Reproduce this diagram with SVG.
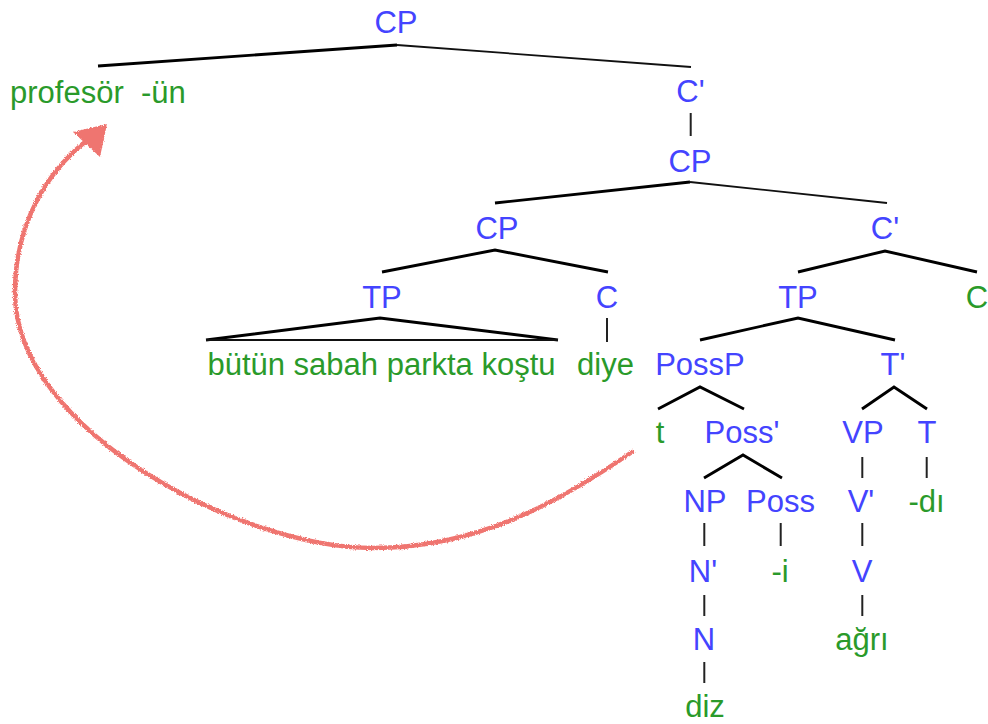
<svg xmlns="http://www.w3.org/2000/svg" width="988" height="724" viewBox="0 0 988 724">
  <defs>
    <style>
      text { font-family: "Liberation Sans", Arial, sans-serif; font-size: 31px; text-anchor: middle; }
      .nt { fill: #4444ff; }
      .t { fill: #2a9a2a; }
      .edge { fill: none; stroke: #000; stroke-width: 2.9; stroke-linejoin: miter; }
      .thin { fill: none; stroke: #111; stroke-width: 1.8; }
      .stem { fill: none; stroke: #222; stroke-width: 2; }
      .move { fill: none; stroke: #ef7470; stroke-width: 4.5; stroke-linecap: round; }
      .movehead { fill: #ef7470; }
    </style>
    <!-- grainy pencil texture for the movement arrow -->
    <filter id="rough" x="-5%" y="-5%" width="110%" height="110%">
      <feTurbulence type="fractalNoise" baseFrequency="1.3" numOctaves="2" seed="3" result="noise"/>
      <feDisplacementMap in="SourceGraphic" in2="noise" scale="3.5" xChannelSelector="R" yChannelSelector="G"/>
    </filter>
  </defs>

  <rect width="988" height="724" fill="#fff"/>

  <!-- tree branches -->
  <g id="connectors">
    <path class="edge" d="M98,66 L397,45"/>
    <path class="thin" d="M397,45 L691,67"/>
    <path class="stem" d="M690.7,113 L690.7,136"/>
    <path class="edge" d="M495,203 L690,182"/>
    <path class="thin" d="M690,182 L887,203"/>
    <path class="edge" d="M382,272 L495,250 L608,272"/>
    <path class="edge" d="M798,272 L885,251 L977,272"/>
    <path class="edge" d="M206,340 L380,318 L558,340"/>
    <path class="thin" d="M206,340 L558,340"/>
    <path class="stem" d="M607,318 L607,342"/>
    <path class="edge" d="M700,340 L798,318 L895,340"/>
    <path class="edge" d="M658,409 L700,387 L744,409"/>
    <path class="edge" d="M862,409 L894,387 L927,409"/>
    <path class="edge" d="M704,478 L743,455 L782,478"/>
    <path class="stem" d="M862.3,457 L862.3,478"/>
    <path class="stem" d="M926.7,457 L926.7,478"/>
    <path class="stem" d="M704.3,523 L704.3,546"/>
    <path class="stem" d="M780.7,523 L780.7,546"/>
    <path class="stem" d="M862.3,523 L862.3,546"/>
    <path class="stem" d="M704.3,595 L704.3,616"/>
    <path class="stem" d="M862.3,595 L862.3,616"/>
    <path class="stem" d="M704.3,662 L704.3,683"/>
  </g>

  <!-- movement arrow from the trace t up to the raised subject -->
  <g id="movement" filter="url(#rough)">
    <path class="move" d="M632,452 C552,507 473,548 373,548 C240,548 15,430 15,293 C15,220 50,170 85,142"/>
    <polygon class="movehead" points="73,132 107,124 100,157"/>
  </g>

  <!-- nodes -->
  <g id="cp-root"><text class="nt" x="396" y="33">CP</text></g>
  <g id="subject"><text class="t" x="10" y="103" style="text-anchor:start;white-space:pre" xml:space="preserve">profesör  -ün</text></g>
  <g id="cbar-1"><text class="nt" x="690.5" y="102">C'</text></g>
  <g id="cp-2"><text class="nt" x="690" y="172">CP</text></g>
  <g id="cp-3"><text class="nt" x="497" y="239">CP</text></g>
  <g id="cbar-2"><text class="nt" x="885" y="239">C'</text></g>
  <g id="tp-1"><text class="nt" x="382" y="308">TP</text></g>
  <g id="c-1"><text class="nt" x="607" y="308">C</text></g>
  <g id="tp-2"><text class="nt" x="798" y="308">TP</text></g>
  <g id="c-2"><text class="t" x="977" y="308">C</text></g>
  <g id="clause"><text class="t" x="381.5" y="375">bütün sabah parkta koştu</text></g>
  <g id="diye"><text class="t" x="605.5" y="375">diye</text></g>
  <g id="possp"><text class="nt" x="700" y="375">PossP</text></g>
  <g id="tbar"><text class="nt" x="893" y="375">T'</text></g>
  <g id="trace"><text class="t" x="660" y="443">t</text></g>
  <g id="possbar"><text class="nt" x="742" y="443">Poss'</text></g>
  <g id="vp"><text class="nt" x="863" y="443">VP</text></g>
  <g id="t-head"><text class="nt" x="927" y="443">T</text></g>
  <g id="np"><text class="nt" x="705" y="512">NP</text></g>
  <g id="poss"><text class="nt" x="780.5" y="512">Poss</text></g>
  <g id="vbar"><text class="nt" x="861" y="512">V'</text></g>
  <g id="past"><text class="t" x="926.5" y="512">-dı</text></g>
  <g id="nbar"><text class="nt" x="703" y="582">N'</text></g>
  <g id="poss-suffix"><text class="t" x="780" y="582">-i</text></g>
  <g id="v"><text class="nt" x="862" y="582">V</text></g>
  <g id="n"><text class="nt" x="704" y="650">N</text></g>
  <g id="agri"><text class="t" x="862" y="650">ağrı</text></g>
  <g id="diz"><text class="t" x="705" y="717">diz</text></g>
</svg>
